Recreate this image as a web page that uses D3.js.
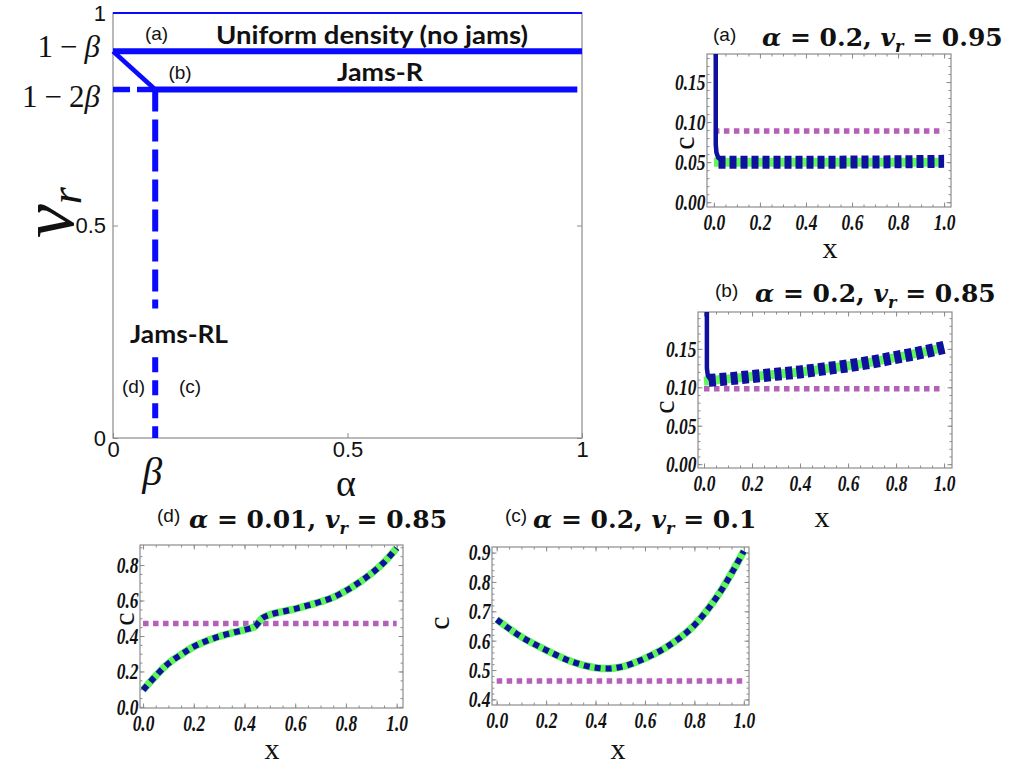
<!DOCTYPE html>
<html lang="en">
<head>
<meta charset="UTF-8">
<title>Phase diagram and density profiles</title>
<script src="https://cdnjs.cloudflare.com/ajax/libs/d3/7.8.5/d3.min.js"></script>
<style>
    body { margin: 0; background: #fff; }
    svg { display: block; }
    .frame { fill: none; stroke: #8c8c8c; stroke-width: 1.2; }
    .tick line { stroke: #8c8c8c; }
    .domain { display: none; }
    .phase-tick text { font-family: "Liberation Sans", Arial, sans-serif; font-size: 22px; fill: #111; }
    .panel-tick text { font-family: "Liberation Serif", "Times New Roman", serif; font-size: 23px;
        font-weight: bold; font-style: italic; fill: #111; }
    .region { font-family: Lato, "Open Sans", sans-serif; font-weight: bold; font-size: 25px; fill: #111; }
    .tag { font-family: "Liberation Sans", Arial, sans-serif; font-size: 19px; fill: #111; }
    .math { font-family: "DejaVu Serif", serif; font-weight: bold; font-size: 25px; fill: #111; }
    .axlabel { font-family: "Liberation Serif", "Times New Roman", serif; font-size: 30px; fill: #111; }
</style>
</head>
<body>
<svg id="fig" width="1009" height="772"></svg>
<script>
// ---------- phase diagram ----------
const beta = 0.09;
const phaseTicks = [0, 0.5, 1];
const phaseTickLabels = ['0', '0.5', '1'];
const lineTop = [[0, 1], [1, 1]];
const lineUniform = [[0, 1 - beta], [1, 1 - beta]];
const lineDiagonal = [[0, 1 - beta], [beta, 1 - 2 * beta]];
const lineJamsR = [[beta, 1 - 2 * beta], [0.99, 1 - 2 * beta]];
const dashLeft = [[0, 1 - 2 * beta], [beta, 1 - 2 * beta]];
const dashUpper = [[beta, 1 - 2 * beta], [beta, 0.305]];
const dashLower = [[beta, 0.19], [beta, 0]];

// ---------- density profiles ----------
const xTicks = [0, 0.2, 0.4, 0.6, 0.8, 1];
const xTickLabels = ['0.0', '0.2', '0.4', '0.6', '0.8', '1.0'];

// (a) alpha = 0.2, v_r = 0.95
const aTicks = [0, 0.05, 0.1, 0.15];
const aTickLabels = ['0.00', '0.05', '0.10', '0.15'];
const aMeanField = 0.089;
const aTheoryX = [0, 1];
const aTheoryC = [0.05, 0.05];
const aSpikeX = [0.008, 0.008, 0.011, 0.018, 0.03];
const aSpikeC = [0.2, 0.072, 0.062, 0.056, 0.053];
const aSimX = [0.02, 0.5, 1];
const aSimC = [0.05, 0.05, 0.051];

// (b) alpha = 0.2, v_r = 0.85
const bTicks = [0, 0.05, 0.1, 0.15];
const bTickLabels = ['0.00', '0.05', '0.10', '0.15'];
const bMeanField = 0.098;
const bTheoryX = [0, 0.1, 0.2, 0.3, 0.4, 0.5, 0.6, 0.7, 0.8, 0.9, 1];
const bTheoryC = [0.108, 0.111, 0.114, 0.117, 0.12, 0.124, 0.128, 0.133, 0.139, 0.145, 0.152];
const bSpikeX = [0.012, 0.012, 0.016, 0.025, 0.04];
const bSpikeC = [0.21, 0.125, 0.115, 0.111, 0.11];
const bSimX = [0.02, 0.1, 0.2, 0.3, 0.4, 0.5, 0.6, 0.7, 0.8, 0.9, 1];
const bSimC = [0.109, 0.111, 0.114, 0.117, 0.12, 0.124, 0.128, 0.133, 0.139, 0.145, 0.152];

// (d) alpha = 0.01, v_r = 0.85
const dTicks = [0, 0.2, 0.4, 0.6, 0.8];
const dTickLabels = ['0.0', '0.2', '0.4', '0.6', '0.8'];
const dMeanField = 0.47;
const dX = [0, 0.05, 0.1, 0.15, 0.2, 0.25, 0.3, 0.35, 0.4, 0.44, 0.47, 0.5, 0.55, 0.6, 0.65, 0.7, 0.75, 0.8, 0.85, 0.9, 0.95, 1];
const dC = [0.095, 0.175, 0.245, 0.295, 0.34, 0.372, 0.397, 0.417, 0.435, 0.452, 0.5, 0.52, 0.537, 0.553, 0.572, 0.593, 0.618, 0.655, 0.7, 0.752, 0.815, 0.895];

// (c) alpha = 0.2, v_r = 0.1
const cTicks = [0.4, 0.5, 0.6, 0.7, 0.8, 0.9];
const cTickLabels = ['0.4', '0.5', '0.6', '0.7', '0.8', '0.9'];
const cMeanField = 0.463;
const cX = [0, 0.1, 0.2, 0.3, 0.4, 0.45, 0.5, 0.6, 0.7, 0.8, 0.9, 1];
const cC = [0.672, 0.613, 0.568, 0.53, 0.508, 0.505, 0.51, 0.54, 0.585, 0.653, 0.76, 0.905];

const BLUE = '#0a0aff';
const NAVY = '#10109e';
const GREEN = '#5ff65a';
const PURPLE = '#b45fb8';

const svg = d3.select('#fig');
const zip = (xs, ys) => xs.map((v, i) => [v, ys[i]]);

// ================= phase diagram =================
const px = d3.scaleLinear().domain([0, 1]).range([113, 582]);
const py = d3.scaleLinear().domain([0, 1]).range([438, 13]);
const phaseLine = d3.line().x(d => px(d[0])).y(d => py(d[1]));

const phase = svg.append('g');

phase.append('g').attr('class', 'phase-tick')
    .attr('transform', `translate(0,${py(0)})`)
    .call(d3.axisBottom(px).tickValues(phaseTicks).tickSize(-5).tickPadding(3)
        .tickFormat((d, i) => phaseTickLabels[i]));
phase.append('g').attr('class', 'phase-tick')
    .attr('transform', `translate(${px(0)},0)`)
    .call(d3.axisLeft(py).tickValues(phaseTicks).tickSize(-5).tickPadding(7)
        .tickFormat((d, i) => phaseTickLabels[i]));
phase.append('g').attr('class', 'phase-tick')
    .attr('transform', `translate(${px(1)},0)`)
    .call(d3.axisRight(py).tickValues(phaseTicks).tickSize(-5).tickFormat(''));
phase.append('rect').attr('class', 'frame')
    .attr('x', px(0)).attr('y', py(1))
    .attr('width', px(1) - px(0)).attr('height', py(0) - py(1));

const phaseLines = [
    {pts: lineTop, w: 2, dash: null},
    {pts: lineUniform, w: 6, dash: null},
    {pts: lineDiagonal, w: 4.5, dash: null},
    {pts: lineJamsR, w: 6, dash: null},
    {pts: dashLeft, w: 5.5, dash: '17,7'},
    {pts: dashUpper, w: 6, dash: '22,8'},
    {pts: dashLower, w: 6, dash: '15,8'}
];
phase.selectAll('path.boundary')
    .data(phaseLines)
    .enter()
    .append('path')
    .attr('class', 'boundary')
    .attr('d', d => phaseLine(d.pts))
    .attr('fill', 'none')
    .attr('stroke', BLUE)
    .attr('stroke-width', d => d.w)
    .attr('stroke-dasharray', d => d.dash);

const tagText = (x, y, s) => phase.append('text').attr('class', 'tag')
    .attr('x', x).attr('y', y).attr('text-anchor', 'middle').text(s);
tagText(156.5, 40, '(a)');
tagText(180, 79, '(b)');
tagText(133.5, 393, '(d)');
tagText(190, 393, '(c)');

const regionText = (x, y, len, s) => phase.append('text').attr('class', 'region')
    .attr('x', x).attr('y', y).attr('text-anchor', 'middle')
    .attr('textLength', len).attr('lengthAdjust', 'spacingAndGlyphs').text(s);
regionText(372, 44, 312, 'Uniform density (no jams)');
regionText(380, 81, 86, 'Jams-R');
regionText(179, 343, 98, 'Jams-RL');

// special axis labels: "1 − β" and "1 − 2β" (digits upright, beta italic)
const serif = '"Liberation Serif", "Times New Roman", serif';
const oneMinus = (y, factor) => {
    const t = svg.append('text').attr('x', 100).attr('y', y).attr('text-anchor', 'end')
        .style('font-family', serif).style('font-size', '31px').style('fill', '#111');
    t.append('tspan').text('1');
    t.append('tspan').attr('dx', 7).text('−');
    if (factor) t.append('tspan').attr('dx', 7).text(factor);
    t.append('tspan').attr('dx', factor ? 0 : 7).style('font-style', 'italic').text('β');
};
oneMinus(57, '');
oneMinus(107, '2');

svg.append('text').attr('x', px(beta) - 3).attr('y', 485).attr('text-anchor', 'middle')
    .style('font-family', serif).style('font-style', 'italic').style('font-size', '40px')
    .style('fill', '#111').text('β');
svg.append('text').attr('x', 346).attr('y', 496).attr('text-anchor', 'middle')
    .style('font-family', serif).style('font-size', '38px')
    .style('fill', '#111').text('α');

const vr = svg.append('text')
    .attr('transform', 'translate(73,238) rotate(-90)')
    .style('font-family', serif).style('font-style', 'italic').style('fill', '#111');
vr.append('tspan').style('font-size', '76px').text('v');
vr.append('tspan').style('font-size', '44px').attr('dy', 8).text('r');

// ================= density panels =================
const panels = [
    {
        tag: '(a)', alpha: '0.2', vr: '0.95', tagX: 713, mathX: 762, tagY: 41, mathY: 46,
        left: 707, right: 951, top: 54, bottom: 207,
        xDomain: [-0.03, 1.03], yDomain: [-0.006, 0.185],
        yTicks: aTicks, yLabels: aTickLabels, yMinor: 0.01,
        mean: aMeanField, theory: zip(aTheoryX, aTheoryC), sim: zip(aSimX, aSimC),
        spike: zip(aSpikeX, aSpikeC), noisy: true,
        cx: 688, cy: 143, xx: 830, xy: 258
    },
    {
        tag: '(b)', alpha: '0.2', vr: '0.85', tagX: 715, mathX: 755, tagY: 297, mathY: 302,
        left: 698, right: 952, top: 312, bottom: 468,
        xDomain: [-0.025, 1.033], yDomain: [-0.005, 0.198],
        yTicks: bTicks, yLabels: bTickLabels, yMinor: 0.01,
        mean: bMeanField, theory: zip(bTheoryX, bTheoryC), sim: zip(bSimX, bSimC),
        spike: zip(bSpikeX, bSpikeC), noisy: true,
        cx: 668, cy: 407, xx: 822, xy: 527
    },
    {
        tag: '(d)', alpha: '0.01', vr: '0.85', tagX: 157, mathX: 189, tagY: 522, mathY: 528,
        left: 140, right: 403, top: 545, bottom: 708,
        xDomain: [-0.012, 1.025], yDomain: [-0.006, 0.913],
        yTicks: dTicks, yLabels: dTickLabels, yMinor: 0.05,
        mean: dMeanField, theory: zip(dX, dC), sim: zip(dX, dC),
        spike: null, noisy: false,
        cx: 128, cy: 619, xx: 272, xy: 759
    },
    {
        tag: '(c)', alpha: '0.2', vr: '0.1', tagX: 505, mathX: 533, tagY: 522, mathY: 528,
        left: 492, right: 749, top: 547, bottom: 705,
        xDomain: [-0.019, 1.021], yDomain: [0.381, 0.919],
        yTicks: cTicks, yLabels: cTickLabels, yMinor: 0.02,
        mean: cMeanField, theory: zip(cX, cC), sim: zip(cX, cC),
        spike: null, noisy: false,
        cx: 443, cy: 623, xx: 618, xy: 759
    }
];

panels.forEach((p, k) => {
    const x = d3.scaleLinear().domain(p.xDomain).range([p.left, p.right]);
    const y = d3.scaleLinear().domain(p.yDomain).range([p.bottom, p.top]);
    const g = svg.append('g');
    const clipId = 'clip' + k;
    g.append('clipPath').attr('id', clipId).append('rect')
        .attr('x', p.left).attr('y', p.top)
        .attr('width', p.right - p.left).attr('height', p.bottom - p.top);

    const xMinor = d3.range(0, 1.0001, 0.05);
    const yMinor = d3.range(Math.ceil(p.yDomain[0] / p.yMinor) * p.yMinor, p.yDomain[1], p.yMinor);

    // ticks (inward, on all four sides)
    g.append('g').attr('class', 'panel-tick').attr('transform', `translate(0,${p.bottom})`)
        .call(d3.axisBottom(x).tickValues(xTicks).tickSize(-4.5).tickPadding(7)
            .tickFormat((d, i) => xTickLabels[i]));
    g.append('g').attr('class', 'panel-tick').attr('transform', `translate(0,${p.bottom})`)
        .call(d3.axisBottom(x).tickValues(xMinor).tickSize(-2.5).tickFormat(''));
    g.append('g').attr('class', 'panel-tick').attr('transform', `translate(0,${p.top})`)
        .call(d3.axisTop(x).tickValues(xMinor).tickSize(-2.5).tickFormat(''));
    g.append('g').attr('class', 'panel-tick').attr('transform', `translate(0,${p.top})`)
        .call(d3.axisTop(x).tickValues(xTicks).tickSize(-4.5).tickFormat(''));
    g.append('g').attr('class', 'panel-tick').attr('transform', `translate(${p.left},0)`)
        .call(d3.axisLeft(y).tickValues(p.yTicks).tickSize(-4.5).tickPadding(2)
            .tickFormat((d, i) => p.yLabels[i]));
    g.append('g').attr('class', 'panel-tick').attr('transform', `translate(${p.left},0)`)
        .call(d3.axisLeft(y).tickValues(yMinor).tickSize(-2.5).tickFormat(''));
    g.append('g').attr('class', 'panel-tick').attr('transform', `translate(${p.right},0)`)
        .call(d3.axisRight(y).tickValues(p.yTicks).tickSize(-4.5).tickFormat(''));
    g.append('g').attr('class', 'panel-tick').attr('transform', `translate(${p.right},0)`)
        .call(d3.axisRight(y).tickValues(yMinor).tickSize(-2.5).tickFormat(''));
    // tall, narrow digits as in the original figure
    g.selectAll('.panel-tick text').attr('transform', 'scale(0.76,1)');

    g.append('rect').attr('class', 'frame')
        .attr('x', p.left).attr('y', p.top)
        .attr('width', p.right - p.left).attr('height', p.bottom - p.top);

    const line = d3.line().x(d => x(d[0])).y(d => y(d[1])).curve(d3.curveMonotoneX);
    const plot = g.append('g').attr('clip-path', `url(#${clipId})`);

    // mean-field density (purple dots)
    plot.append('path')
        .attr('d', d3.line().x(d => x(d[0])).y(d => y(d[1]))([[0, p.mean], [1, p.mean]]))
        .attr('fill', 'none').attr('stroke', PURPLE)
        .attr('stroke-width', 5.5).attr('stroke-dasharray', '5.5,4.5');

    // theory (green) and simulation (navy)
    plot.append('path').attr('d', line(p.theory))
        .attr('fill', 'none').attr('stroke', GREEN)
        .attr('stroke-width', p.noisy ? 9 : 7.5);
    plot.append('path').attr('d', line(p.sim))
        .attr('fill', 'none').attr('stroke', NAVY)
        .attr('stroke-width', p.noisy ? 13 : 6)
        .attr('stroke-dasharray', p.noisy ? '7,4' : '6,5');
    if (p.spike) {
        plot.append('path')
            .attr('d', d3.line().x(d => x(d[0])).y(d => y(d[1]))(p.spike))
            .attr('fill', 'none').attr('stroke', NAVY).attr('stroke-width', 4.5);
    }

    // title
    svg.append('text').attr('class', 'tag').attr('x', p.tagX).attr('y', p.tagY).text(p.tag);
    const m = svg.append('text').attr('class', 'math').attr('x', p.mathX).attr('y', p.mathY);
    m.append('tspan').style('font-style', 'italic').text('α');
    m.append('tspan').text(' = ' + p.alpha + ', ');
    m.append('tspan').style('font-style', 'italic').text('v');
    m.append('tspan').style('font-style', 'italic').style('font-size', '16px').attr('dy', 6).text('r');
    m.append('tspan').attr('dy', -6).text(' = ' + p.vr);

    // axis labels
    svg.append('text').attr('class', 'axlabel').attr('text-anchor', 'middle')
        .attr('x', p.xx).attr('y', p.xy).text('x');
    svg.append('text').attr('class', 'axlabel').attr('text-anchor', 'middle')
        .attr('transform', `translate(${p.cx + 6},${p.cy}) rotate(-90)`).text('c');
});
</script>
</body>
</html>
